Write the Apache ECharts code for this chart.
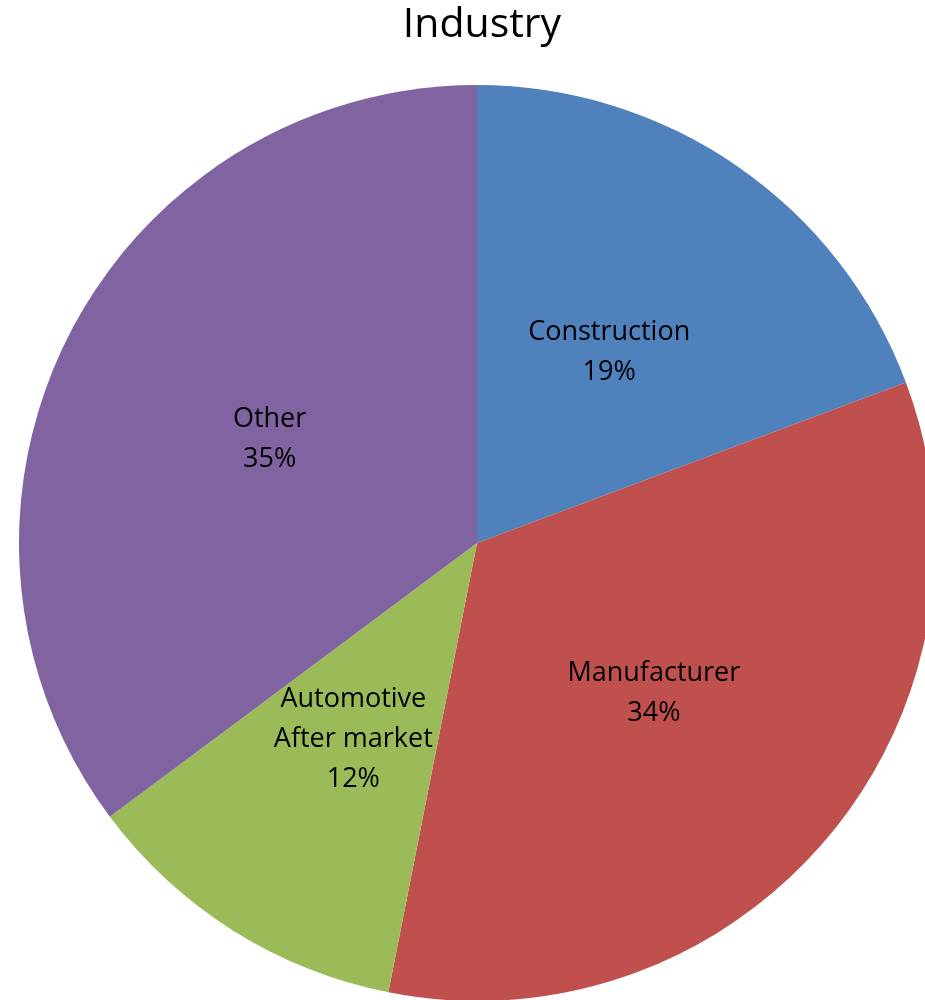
<!DOCTYPE html>
<html>
<head>
<meta charset="utf-8">
<script src="https://cdn.jsdelivr.net/npm/echarts@6/dist/echarts.min.js"></script>
<style>
html,body{margin:0;padding:0;background:#fff;}
#chart{width:925px;height:1000px;}
</style>
</head>
<body>
<div id="chart"></div>
<script>
const titleText = 'Industry';
const categories = ['Construction', 'Manufacturer', 'Automotive\nAfter market', 'Other'];
const values = [19.3, 33.8, 11.7, 35.2];
const colors = ['#4F81BD', '#C0504D', '#9BBB59', '#8064A2'];

const chart = echarts.init(document.getElementById('chart'), null, {renderer: 'canvas'});
const fontFam = '"Open Sans", Lato, "Noto Sans", sans-serif';
chart.setOption({
  backgroundColor: '#ffffff',
  animation: false,
  title: {
    text: titleText,
    left: 477,
    textAlign: 'center',
    top: 0,
    textStyle: {fontFamily: fontFam, fontSize: 41, fontWeight: 'normal', color: '#000'}
  },
  series: [{
    type: 'pie',
    center: [477, 543],
    radius: [0, 458],
    startAngle: 90,
    clockwise: true,
    avoidLabelOverlap: false,
    data: categories.map((c, i) => ({name: c, value: values[i], itemStyle: {color: colors[i]}})),
    label: {
      show: true,
      position: 'inner',
      formatter: p => p.name + '\n' + Math.round(p.percent) + '%',
      fontFamily: fontFam,
      fontSize: 27,
      lineHeight: 40,
      color: '#000'
    },
    labelLine: {show: false},
    emphasis: {disabled: true}
  }]
});
</script>
</body>
</html>
